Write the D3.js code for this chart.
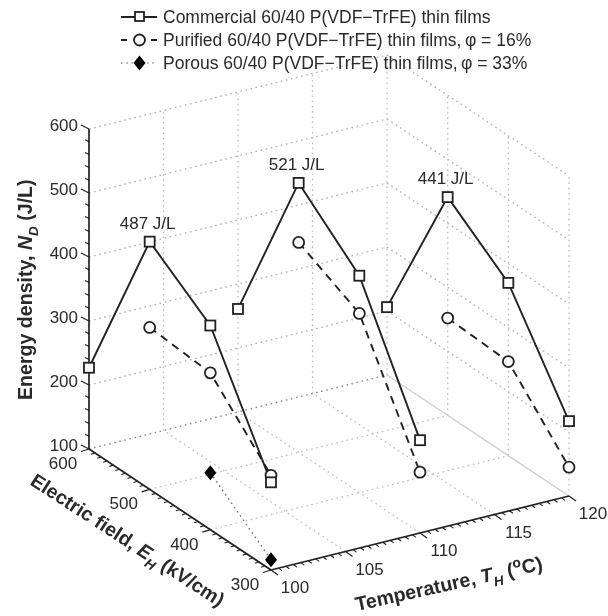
<!DOCTYPE html>
<html><head><meta charset="utf-8">
<script src="https://cdn.jsdelivr.net/npm/d3@7"></script>
<style>
html,body{margin:0;padding:0;background:#fff}
svg{display:block;filter:blur(0.55px)}
text{font-family:"Liberation Sans",Arial,sans-serif;fill:#2a2a2a}
</style></head><body>
<svg id="chart" width="608" height="616"></svg>
<script>
const temperatures = [100, 110, 120];
const fields = [600, 500, 400, 300];
const commercial100 = [227, 487, 419, 237];
const commercial110 = [261, 521, 439, 245];
const commercial120 = [206, 441, 370, 217];
const purifiedFields = [500, 400, 300];
const purified100 = [353, 345, 248];
const purified110 = [428, 380, 195];
const purified120 = [252, 247, 145];
const porousFields = [400, 300];
const porous100 = [189, 116];
const peakLabels = ["487 J/L", "521 J/L", "441 J/L"];
const energyTicks = [100, 200, 300, 400, 500, 600];
const fieldTicks = [300, 400, 500, 600];
const tempTicks = [100, 105, 110, 115, 120];
const legendLabels = [
  "Commercial 60/40 P(VDF\u2212TrFE) thin films",
  "Purified 60/40 P(VDF\u2212TrFE) thin films,\u2009\u03c6 = 16%",
  "Porous 60/40 P(VDF\u2212TrFE) thin films,\u2009\u03c6 = 33%"
];

const svg = d3.select("#chart");
// oblique projection: each data axis contributes a screen offset
const tX = d3.scaleLinear().domain([100, 120]).range([0, 298]);
const tY = d3.scaleLinear().domain([100, 120]).range([0, -74]);
const eX = d3.scaleLinear().domain([300, 600]).range([0, -182]);
const eY = d3.scaleLinear().domain([300, 600]).range([0, -121]);
const nY = d3.scaleLinear().domain([100, 600]).range([0, -320]);
const ox = 271, oy = 570;
const px = (t, e) => ox + tX(t) + eX(e);
const py = (t, e, n) => oy + tY(t) + eY(e) + nY(n);
const P = (t, e, n) => [px(t, e), py(t, e, n)];
const path = d3.line();
const ink = "#222";

const grid = svg.append("g").attr("fill", "none");
function gl(a, b, col, dash, w) {
  grid.append("path").attr("d", path([a, b])).attr("stroke", col)
    .attr("stroke-dasharray", dash).attr("stroke-width", w);
}
const dots = "1.6 3.6";
// walls: energy lines
energyTicks.forEach(n => {
  const c = n === 100 ? "#8a8a8a" : "#b2b2b2";
  gl(P(100, 600, n), P(120, 600, n), c, dots, 1.4);
  gl(P(120, 600, n), P(120, 300, n), n === 100 ? "none" : "#b2b2b2", dots, 1.4);
});
// walls: verticals
tempTicks.slice(1).forEach(t => gl(P(t, 600, 100), P(t, 600, 600), "#bdbdbd", dots, 1.3));
fieldTicks.slice(0, 3).forEach(e => gl(P(120, e, 100), P(120, e, 600), "#bdbdbd", dots, 1.3));
// floor
tempTicks.slice(1, 4).forEach(t => gl(P(t, 300, 100), P(t, 600, 100), "#bdbdbd", dots, 1.3));
fieldTicks.slice(1, 3).forEach(e => gl(P(100, e, 100), P(120, e, 100), "#bdbdbd", dots, 1.3));
gl(P(120, 600, 100), P(120, 300, 100), "#cfcfcf", null, 1.3);

// axes
const axes = svg.append("g").attr("stroke", ink).attr("fill", "none");
function line(a, b, w) { axes.append("path").attr("d", path([a, b])).attr("stroke-width", w); }
line(P(100, 600, 100), P(100, 600, 600), 1.7);
line(P(100, 600, 100), P(100, 300, 100), 1.7);
line(P(100, 300, 100), P(120, 300, 100), 1.7);
function tick(t, e, n, dx, dy, major) {
  const k = major ? 1 : 0.5;
  const a = P(t, e, n);
  axes.append("path").attr("d", path([a, [a[0] + dx * k, a[1] + dy * k]]))
    .attr("stroke-width", major ? 1.2 : 1.1);
}
d3.range(100, 601, 20).forEach(n => tick(100, 600, n, -8, -4, n % 100 === 0));
d3.range(300, 601, 10).forEach(e => tick(100, e, 100, -8, 2.5, e % 100 === 0));
d3.range(100, 120.01, 0.5).forEach(t => tick(t, 300, 100, 7, 5, t % 5 === 0));

// tick labels
const labels = svg.append("g").attr("font-size", 17);
energyTicks.forEach(n => labels.append("text").attr("x", 78).attr("y", py(100, 600, n) + 1.5)
  .attr("text-anchor", "end").text(n));
fieldTicks.forEach(e => labels.append("text").attr("x", px(100, e) - 26).attr("y", py(100, e, 100) + 20)
  .attr("text-anchor", "middle").text(e));
tempTicks.forEach(t => labels.append("text").attr("x", px(t, 300) + 24).attr("y", py(t, 300, 100) + 23)
  .attr("text-anchor", "middle").text(t));

// series
const marks = svg.append("g").attr("fill", "none").attr("stroke", ink);
function series(xsT, es, vals, dash, w, col) {
  marks.append("path").attr("d", path(es.map((e, i) => P(xsT, e, vals[i]))))
    .attr("stroke-width", w).attr("stroke-dasharray", dash).attr("stroke", col || ink);
}
function square(p) {
  marks.append("rect").attr("x", p[0] - 5).attr("y", p[1] - 5).attr("width", 10).attr("height", 10)
    .attr("fill", "#fff").attr("stroke-width", 1.8);
}
function circle(p) {
  marks.append("circle").attr("cx", p[0]).attr("cy", p[1]).attr("r", 5.5)
    .attr("fill", "#fff").attr("stroke-width", 1.8);
}
function diamond(p) {
  marks.append("path").attr("d", d3.line()([[p[0], p[1] - 7.5], [p[0] + 6, p[1]], [p[0], p[1] + 7.5], [p[0] - 6, p[1]]]) + "Z")
    .attr("fill", "#000").attr("stroke", "none");
}
const commercial = [commercial100, commercial110, commercial120];
const purified = [purified100, purified110, purified120];
temperatures.forEach((t, i) => {
  series(t, purifiedFields, purified[i], "8 6", 1.9);
  series(t, fields, commercial[i], null, 1.9);
});
series(100, porousFields, porous100, "1.6 3.6", 1.5, "#777");
temperatures.forEach((t, i) => {
  purifiedFields.forEach((e, j) => circle(P(t, e, purified[i][j])));
  fields.forEach((e, j) => square(P(t, e, commercial[i][j])));
});
porousFields.forEach((e, j) => diamond(P(100, e, porous100[j])));

// peak labels
temperatures.forEach((t, i) => {
  const p = P(t, fields[1], commercial[i][1]);
  svg.append("text").attr("x", p[0] - 2).attr("y", p[1] - 13)
    .attr("text-anchor", "middle").attr("font-size", 17).text(peakLabels[i]);
});

// legend
const legY = [17, 40, 63];
const leg = svg.append("g");
leg.append("path").attr("d", path([[121, legY[0]], [157, legY[0]]])).attr("stroke", ink).attr("stroke-width", 1.9);
leg.append("rect").attr("x", 135).attr("y", legY[0] - 5).attr("width", 9).attr("height", 9)
  .attr("fill", "#fff").attr("stroke", ink).attr("stroke-width", 1.8);
leg.append("path").attr("d", path([[121, legY[1]], [157, legY[1]]])).attr("stroke", ink).attr("stroke-width", 1.9)
  .attr("stroke-dasharray", "6 24");
leg.append("circle").attr("cx", 139.5).attr("cy", legY[1]).attr("r", 5.5).attr("fill", "#fff").attr("stroke", ink).attr("stroke-width", 1.8);
leg.append("path").attr("d", path([[121, legY[2]], [157, legY[2]]])).attr("stroke", "#999").attr("stroke-width", 1.4)
  .attr("stroke-dasharray", "1.6 3.6");
leg.append("path").attr("d", d3.line()([[139.5, 55.5], [145.5, 63], [139.5, 70.5], [133.5, 63]]) + "Z").attr("fill", "#000");
legendLabels.forEach((s, i) => leg.append("text").attr("x", 163).attr("y", legY[i] + 6)
  .attr("font-size", 17.5).text(s));

// axis titles
function title(x, y, rot, parts) {
  const t = svg.append("text").attr("transform", `translate(${x},${y}) rotate(${rot})`)
    .attr("font-size", 19.6).attr("font-weight", "bold").attr("fill", "#111");
  parts.forEach(([s, opts]) => {
    const sp = t.append("tspan").text(s);
    Object.entries(opts || {}).forEach(([k, v]) => sp.attr(k, v));
  });
  return t;
}
const sub = { "font-size": 13.5, dy: 6, "font-style": "italic" };
const unsub = { dy: -6 };
title(32, 400, -90, [["Energy density, "], ["N", { "font-style": "italic" }], ["D", sub], [" (J/L)", unsub]]);
title(29, 484, 33, [["Electric field, "], ["E", { "font-style": "italic" }], ["H", sub], [" (kV/cm)", unsub]]);
title(357, 611, -12.5, [["Temperature, "], ["T", { "font-style": "italic" }], ["H", sub], [" (", unsub], ["o", { "font-size": 14, dy: -8 }], ["C)", { dy: 8 }]]);
</script>
</body></html>
